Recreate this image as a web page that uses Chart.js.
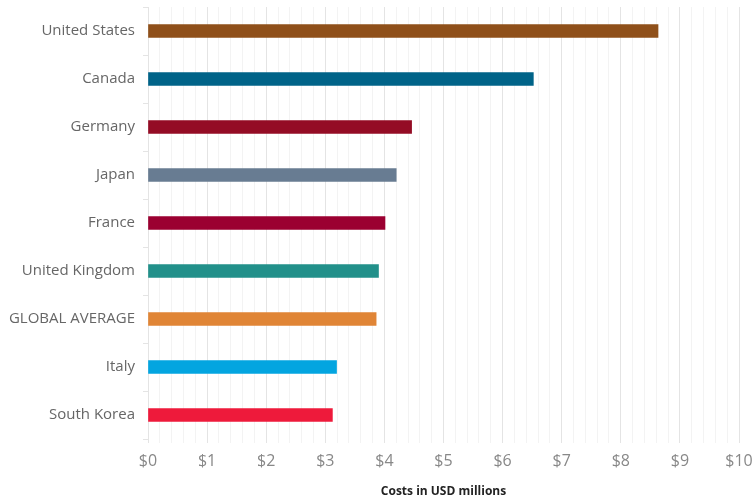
<!DOCTYPE html>
<html>
<head>
<meta charset="utf-8">
<script src="https://cdn.jsdelivr.net/npm/chart.js@4/dist/chart.umd.min.js"></script>
<style>
  html, body { margin: 0; padding: 0; background: #fff; }
  #wrap { width: 752px; height: 498px; }
</style>
</head>
<body>
<div id="wrap"><canvas id="costChart"></canvas></div>
<script>
// Data
const countries = ['United States', 'Canada', 'Germany', 'Japan', 'France',
    'United Kingdom', 'GLOBAL AVERAGE', 'Italy', 'South Korea'];
const costs = [8.63, 6.52, 4.46, 4.20, 4.01, 3.90, 3.86, 3.19, 3.12];
const barColors = ['#8f501a', '#006388', '#940c25', '#687c92', '#9b0031',
    '#22908a', '#e08536', '#03a5e0', '#ee1a3b'];
const xMin = 0;
const xMax = 10;

const isWhole = v => Math.abs(v - Math.round(v)) < 1e-6;

new Chart(document.getElementById('costChart'), {
    type: 'bar',
    data: {
        labels: countries,
        datasets: [{
            data: costs,
            backgroundColor: barColors,
            barThickness: 13
        }]
    },
    options: {
        indexAxis: 'y',
        responsive: true,
        maintainAspectRatio: false,
        animation: false,
        layout: { padding: { top: 7, right: 13, bottom: 0, left: 0 } },
        plugins: {
            legend: { display: false },
            tooltip: { enabled: false }
        },
        scales: {
            y: {
                afterFit: scale => {
                    scale.width = 148;
                    scale.paddingTop = 0;
                    scale.paddingBottom = 0;
                },
                border: { color: '#e4e4e4' },
                grid: { drawOnChartArea: false, tickLength: 5, color: '#e4e4e4' },
                ticks: {
                    color: '#666',
                    padding: 8,
                    font: { family: 'Open Sans', size: 15 }
                }
            },
            x: {
                min: xMin,
                max: xMax,
                afterFit: scale => {
                    scale.height = 59;
                    scale.paddingLeft = 0;
                    scale.paddingRight = 0;
                },
                border: { display: false },
                grid: {
                    color: ctx => isWhole(ctx.tick.value) ? '#e4e4e4' : '#f3f3f3',
                    tickLength: 4
                },
                ticks: {
                    stepSize: 0.2,
                    autoSkip: false,
                    maxRotation: 0,
                    color: '#888',
                    padding: 9,
                    font: { family: 'Open Sans', size: 16 },
                    callback: v => isWhole(v) ? '$' + Math.round(v) : ''
                },
                title: {
                    display: true,
                    text: 'Costs in USD millions',
                    color: '#222',
                    padding: { top: 6, bottom: -1 },
                    font: { family: 'Open Sans', size: 12, weight: 'bold' }
                }
            }
        }
    }
});
</script>
</body>
</html>
